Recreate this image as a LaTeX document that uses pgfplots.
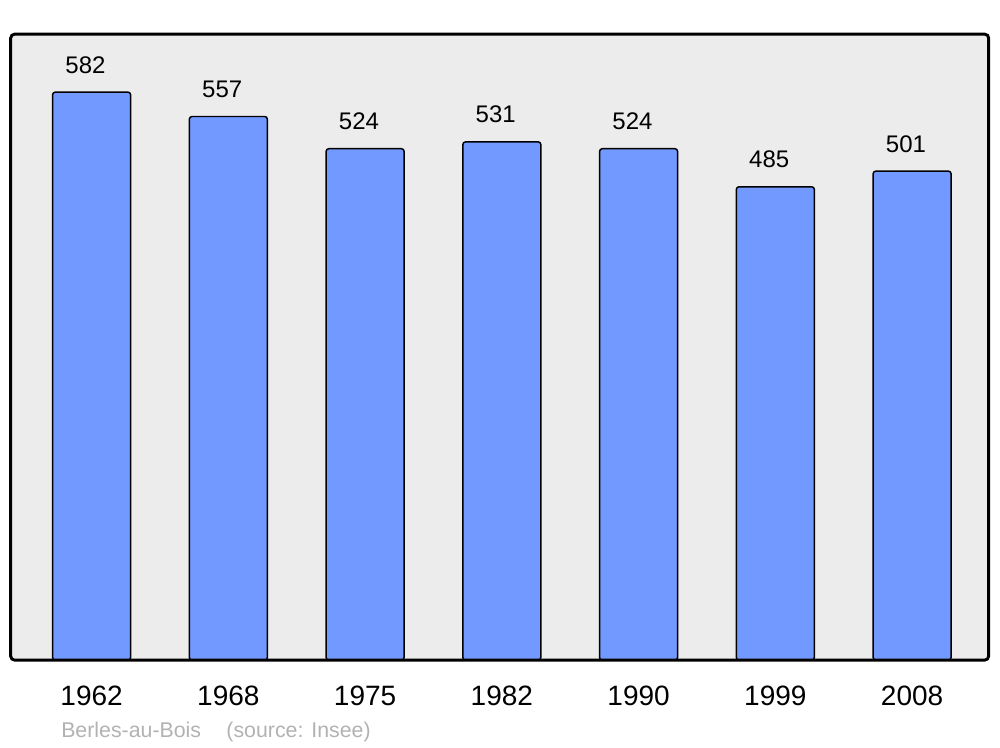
\documentclass[border=0pt]{standalone}
\usepackage{pgfplots}
\pgfplotsset{compat=1.18}
\usepackage{fontspec}
\setmainfont{Liberation Sans}
\definecolor{barblue}{RGB}{114,153,255}
\definecolor{bggray}{RGB}{236,236,236}
\definecolor{footgray}{RGB}{178,178,178}
\begin{document}
\begin{tikzpicture}[x=0.75pt,y=0.75pt]
\useasboundingbox (0,0) rectangle (1000,747);
\begin{axis}[
  at={(7.8,89)}, anchor=south west,
  width=733.5pt, height=469.5pt, scale only axis,
  xmin=-0.592, xmax=6.56, ymin=0, ymax=641.4,
  clip=false,
  axis line style={draw=none},
  axis background/.style={fill=bggray},
  ytick=\empty,
  xtick=data,
  xticklabels={1962,1968,1975,1982,1990,1999,2008},
  major tick length=0pt,
  xticklabel style={font=\fontsize{21pt}{21pt}\selectfont, anchor=base, yshift=-33.75pt},
  /pgf/number format/assume math mode=true,
  ybar, bar width=58.5pt,
  nodes near coords,
  every node near coord/.append style={font=\fontsize{18pt}{18pt}\selectfont, anchor=base, yshift=14.25pt, xshift=-4.6pt, inner sep=0pt, black},
]
\addplot[fill=barblue, draw=black, line width=1.1pt, rounded corners=2pt] coordinates {
  (0,582) (1,557) (2,524) (3,531) (4,524) (5,485) (6,501)
};
\draw[line width=2.2pt, rounded corners=3pt] (rel axis cs:0,0) rectangle (rel axis cs:1,1);
\end{axis}
\node[anchor=base west, inner sep=0pt, text=footgray, font=\fontsize{16pt}{16pt}\selectfont] at (61,10) {Berles-au-Bois\hspace{19pt}(source: Insee)};
\end{tikzpicture}
\end{document}
